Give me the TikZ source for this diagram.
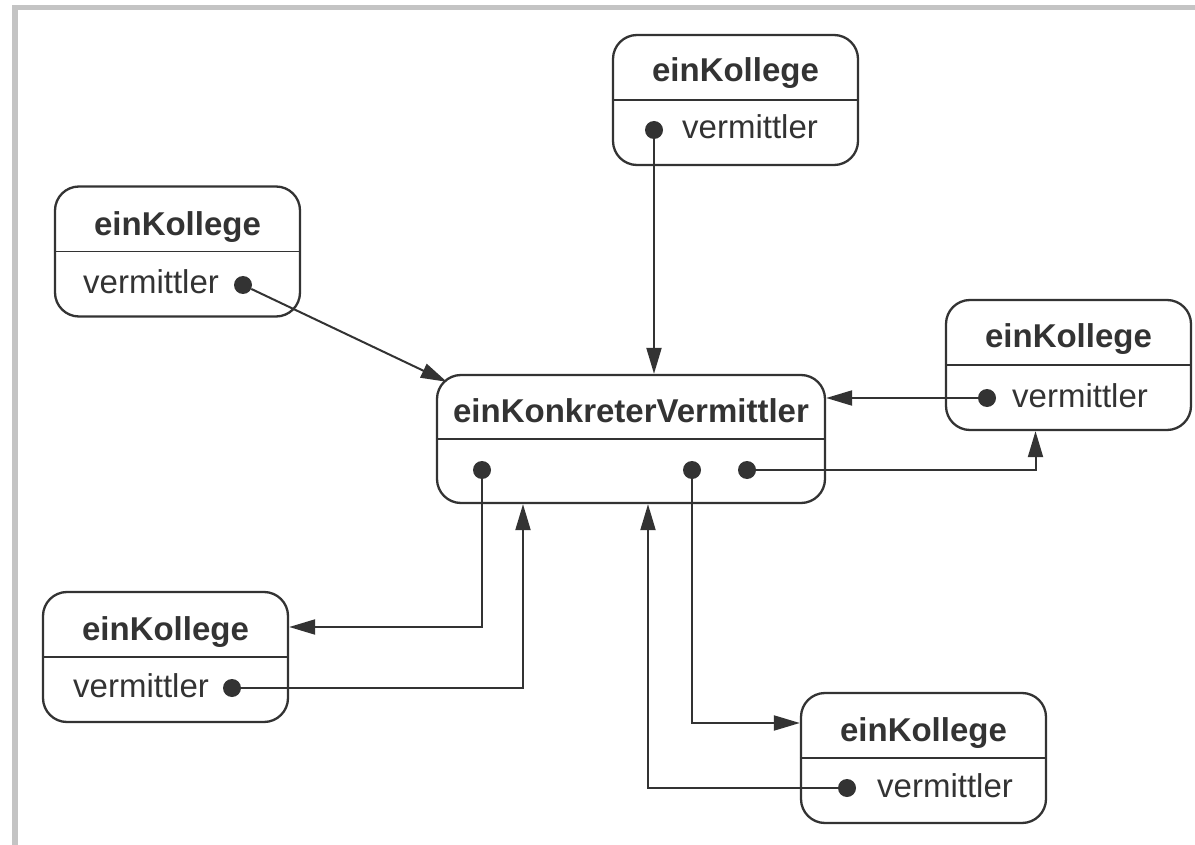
\documentclass[tikz,border=0pt]{standalone}
\usepackage{fontspec}
\setmainfont{Liberation Sans}
\usetikzlibrary{arrows.meta,calc}
\definecolor{ink}{HTML}{333333}
\definecolor{framegray}{HTML}{C4C4C4}
\begin{document}
\begin{tikzpicture}[x=1pt,y=-1pt,
  kbox/.style={draw=ink, line width=2.3pt, rounded corners=24pt,
    minimum width=245pt, minimum height=130pt, inner sep=0pt},
  cbox/.style={kbox, minimum width=388pt, minimum height=128pt},
  divider/.style={draw=ink, line width=1.7pt},
  title/.style={text=ink, font=\fontsize{33}{40}\selectfont\bfseries,
    inner sep=0pt, anchor=base},
  attr/.style={text=ink, font=\fontsize{33}{40}\selectfont,
    inner sep=0pt, anchor=base west},
  dot/.style={circle, fill=ink, minimum size=18pt, inner sep=0pt},
  link/.style={draw=ink, line width=2pt,
    -{Triangle[length=26pt,width=15pt]}},
]
\useasboundingbox (0,0) rectangle (1195,845);
% page frame
\fill[framegray] (12,5) rectangle (1195,10.5);
\fill[framegray] (12,5) rectangle (17.5,845);

% mediator object
\node[cbox] (c) at (631,439) {};
\draw[divider] (c.west) -- (c.east);
\node[title] (ct) at (631,422) {einKonkreterVermittler};
\node[dot] (d5) at (482,470) {};
\node[dot] (d7) at (692,470) {};
\node[dot] (d4) at (747,470) {};

% colleague objects
\node[kbox] (k1) at (735.5,100) {};
\draw[divider] (k1.west) -- (k1.east);
\node[title] (k1t) at (735.5,82) {einKollege};
\node[dot] (d1) at (654,130) {};
\node[attr] (k1a) at (682,139) {vermittler};

\node[kbox] (k2) at (177.5,251.5) {};
\draw[divider] (k2.west) -- (k2.east);
\node[title] (k2t) at (177.5,236) {einKollege};
\node[attr] (k2a) at (83,294) {vermittler};
\node[dot] (d2) at (243,285) {};

\node[kbox] (k3) at (1068.5,365) {};
\draw[divider] (k3.west) -- (k3.east);
\node[title] (k3t) at (1068.5,348) {einKollege};
\node[dot] (d3) at (987,398) {};
\node[attr] (k3a) at (1012,407) {vermittler};

\node[kbox] (k5) at (165.5,657) {};
\draw[divider] (k5.west) -- (k5.east);
\node[title] (k5t) at (165.5,640) {einKollege};
\node[attr] (k5a) at (73,697) {vermittler};
\node[dot] (d6) at (232,688) {};

\node[kbox] (k6) at (923.5,758) {};
\draw[divider] (k6.west) -- (k6.east);
\node[title] (k6t) at (923.5,741) {einKollege};
\node[dot] (d8) at (847,788) {};
\node[attr] (k6a) at (877,797) {vermittler};

% references
\draw[link] (d1) -- (d1 |- c.north);
\draw[link] (d2) -- ([shift={(11,8)}]c.north west);
\draw[link] (d3) -- (d3 -| c.east);
\draw[link] (d4) -| ([xshift=-33pt]k3.south);
\draw[link] (d5) |- ($(k5.east)+(0,-30)$);
\draw[link] (d6) -| ([xshift=-108pt]c.south);
\draw[link] (d7) |- ($(k6.west)+(0,-35)$);
\draw[link] (d8) -| ([xshift=17pt]c.south);
\end{tikzpicture}
\end{document}
